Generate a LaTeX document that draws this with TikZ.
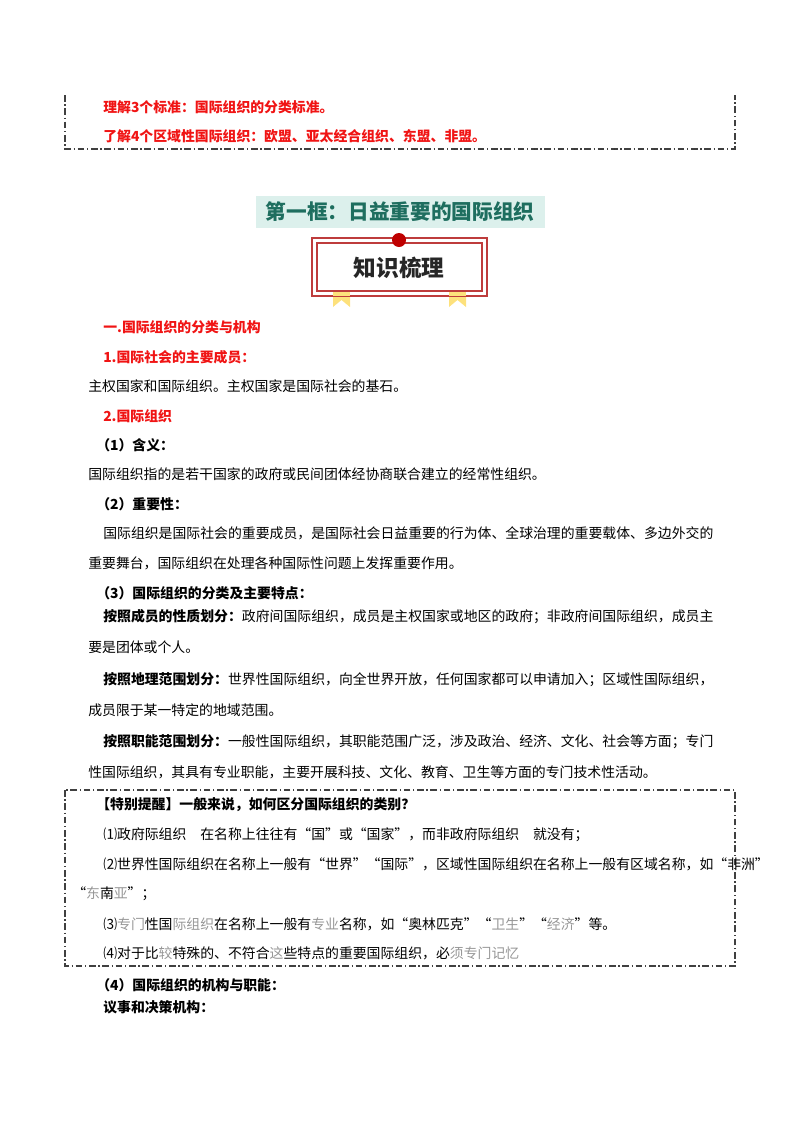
\documentclass[tikz,border=0pt]{standalone}
\usepackage{fontspec}
\setmainfont{Noto Sans CJK SC}
\begin{document}
\begin{tikzpicture}[x=0.75pt,y=-0.75pt,
  t/.style={anchor=west,inner sep=0pt,font=\fontsize{10.4}{12}\selectfont},
  red/.style={t,text={rgb,255:red,240;green,20;blue,20},font=\fontsize{10.4}{12}\selectfont\bfseries},
  bt/.style={t,font=\fontsize{10.4}{12}\selectfont\bfseries},
  dd/.style={draw=black!75,line width=0.9pt,dash pattern=on 5pt off 2pt on 1pt off 2pt}]
\definecolor{teal1}{RGB}{30,110,95}
\definecolor{tealbg}{RGB}{220,240,236}
\definecolor{dred}{RGB}{190,60,60}
\definecolor{gr}{RGB}{150,150,150}
\useasboundingbox (0,0) rectangle (800,1132);
% top box
\draw[dd] (65,95) -- (65,149) -- (735,149) -- (735,95);
\node[red] (l1) at (103,107) {理解3个标准：国际组织的分类标准。};
\node[red] (l2) at (103,136) {了解4个区域性国际组织：欧盟、亚太经合组织、东盟、非盟。};
% title
\fill[tealbg] (256,196) rectangle (545,228);
\node[font=\fontsize{15.5}{18}\selectfont\bfseries,text=teal1] (title) at (400,212) {第一框：日益重要的国际组织};
% knowledge box
\fill[yellow!60!orange!50] (333,288) -- (350,288) -- (350,307) -- (341.5,300) -- (333,307) -- cycle;
\fill[yellow!60!orange!50] (449,288) -- (466,288) -- (466,307) -- (457.5,300) -- (449,307) -- cycle;
\draw[dred,line width=0.8pt,fill=white] (312,238) rectangle (487,296);
\draw[dred,line width=0.8pt] (317,243) rectangle (482,291);
\fill[yellow!60!orange!50] (333,291.5) rectangle (350,296);
\fill[yellow!60!orange!50] (449,291.5) rectangle (466,296);
\fill[red!75!black] (399,240) circle (7);
\node[font=\fontsize{17}{20}\selectfont\bfseries,text=black!85] (kb) at (399,268) {知识梳理};
% body
\node[red] (h1) at (103,327) {一.国际组织的分类与机构};
\node[red] (h2) at (103,357) {1.国际社会的主要成员：};
\node[t] (p1) at (88,386) {主权国家和国际组织。主权国家是国际社会的基石。};
\node[red] (h3) at (103,416) {2.国际组织};
\node[bt] (h4) at (96,445) {（1）含义：};
\node[t] (p2) at (88,474) {国际组织指的是若干国家的政府或民间团体经协商联合建立的经常性组织。};
\node[bt] (h5) at (96,504) {（2）重要性：};
\node[t] (p3) at (103,533) {国际组织是国际社会的重要成员，是国际社会日益重要的行为体、全球治理的重要载体、多边外交的};
\node[t] (p4) at (88,563) {重要舞台，国际组织在处理各种国际性问题上发挥重要作用。};
\node[bt] (h6) at (96,593) {（3）国际组织的分类及主要特点：};
\node[t] (p5) at (103,617) {\textbf{按照成员的性质划分：}政府间国际组织，成员是主权国家或地区的政府；非政府间国际组织，成员主};
\node[t] (p6) at (88,647) {要是团体或个人。};
\node[t] (p7) at (103,680) {\textbf{按照地理范围划分：}世界性国际组织，向全世界开放，任何国家都可以申请加入；区域性国际组织，};
\node[t] (p8) at (88,710) {成员限于某一特定的地域范围。};
\node[t] (p9) at (103,742) {\textbf{按照职能范围划分：}一般性国际组织，其职能范围广泛，涉及政治、经济、文化、社会等方面；专门};
\node[t] (p10) at (88,772) {性国际组织，其具有专业职能，主要开展科技、文化、教育、卫生等方面的专门技术性活动。};
% reminder box
\draw[dd] (65,790) rectangle (735,966);
\node[bt] (r0) at (96,805) {【特别提醒】一般来说，如何区分国际组织的类别？};
\node[t] (r1) at (103,835) {⑴政府际组织　在名称上往往有“国”或“国家”，而非政府际组织　就没有；};
\node[t] (r2) at (103,864) {⑵世界性国际组织在名称上一般有“世界”“国际”，区域性国际组织在名称上一般有区域名称，如“非洲”};
\node[t] (r3) at (72,894) {“{\color{gr}东}南{\color{gr}亚}”；};
\node[t] (r4) at (103,924) {⑶{\color{gr}专门}性国{\color{gr}际组织}在名称上一般有{\color{gr}专业}名称，如“奥林匹克”“{\color{gr}卫生}”“{\color{gr}经济}”等。};
\node[t] (r5) at (103,953) {⑷对于比{\color{gr}较}特殊的、不符合{\color{gr}这}些特点的重要国际组织，必{\color{gr}须专门记忆}};
\node[bt] (h7) at (96,985) {（4）国际组织的机构与职能：};
\node[bt] (h8) at (103,1007) {议事和决策机构：};
\end{tikzpicture}
\end{document}
